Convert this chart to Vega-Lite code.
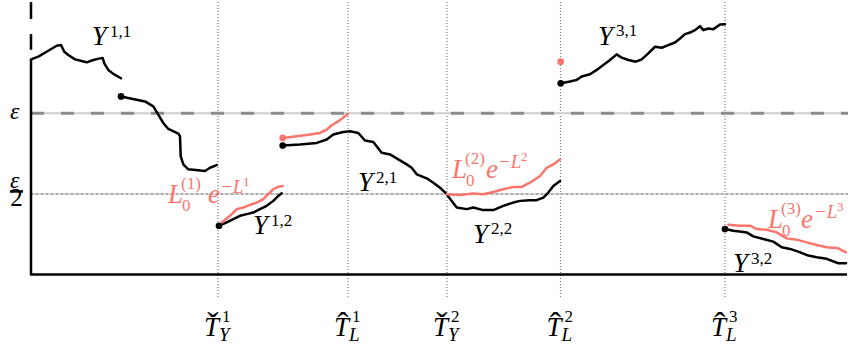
{
  "$schema": "https://vega.github.io/schema/vega-lite/v6.json",
  "width": 863,
  "height": 356,
  "padding": 0,
  "autosize": {"type": "fit", "contains": "padding"},
  "config": {"view": {"stroke": null}},
  "datasets": {
    "ycurves": [
      {"s":"Y11a","x":0,"y":216.3},{"s":"Y11a","x":7.3,"y":219},{"s":"Y11a","x":17.3,"y":225},{"s":"Y11a","x":25.7,"y":230},{"s":"Y11a","x":30,"y":230.7},{"s":"Y11a","x":33.3,"y":224},{"s":"Y11a","x":37.3,"y":220.7},{"s":"Y11a","x":44,"y":216.3},{"s":"Y11a","x":50.7,"y":214.7},{"s":"Y11a","x":55.7,"y":213.3},{"s":"Y11a","x":62.3,"y":215.7},{"s":"Y11a","x":69,"y":217.3},{"s":"Y11a","x":71.7,"y":217.7},{"s":"Y11a","x":73.3,"y":212.3},{"s":"Y11a","x":77.3,"y":205.7},{"s":"Y11a","x":82.3,"y":201.7},{"s":"Y11a","x":90,"y":197.3},
      {"s":"Y11b","x":90,"y":179},{"s":"Y11b","x":100.7,"y":176.7},{"s":"Y11b","x":114,"y":174},{"s":"Y11b","x":122.3,"y":169},{"s":"Y11b","x":127.3,"y":160.7},{"s":"Y11b","x":132.3,"y":152.3},{"s":"Y11b","x":137.3,"y":146.3},{"s":"Y11b","x":147.3,"y":141.7},{"s":"Y11b","x":149,"y":139},{"s":"Y11b","x":149.7,"y":119},{"s":"Y11b","x":152.3,"y":110.7},{"s":"Y11b","x":157.3,"y":105.7},{"s":"Y11b","x":174,"y":104},{"s":"Y11b","x":179,"y":107.3},{"s":"Y11b","x":185.7,"y":110},
      {"s":"Y12","x":188,"y":49},{"s":"Y12","x":195.7,"y":52.3},{"s":"Y12","x":202.3,"y":55.7},{"s":"Y12","x":209,"y":59},{"s":"Y12","x":215.7,"y":60.7},{"s":"Y12","x":222.3,"y":62.3},{"s":"Y12","x":229,"y":65.7},{"s":"Y12","x":235.7,"y":69},{"s":"Y12","x":242.3,"y":74},{"s":"Y12","x":247.3,"y":79},{"s":"Y12","x":250.7,"y":81.7},
      {"s":"Y2","x":251.7,"y":129.7},{"s":"Y2","x":269,"y":130.7},{"s":"Y2","x":285.7,"y":132.3},{"s":"Y2","x":295.7,"y":135.7},{"s":"Y2","x":302.3,"y":140.7},{"s":"Y2","x":312.3,"y":143.3},{"s":"Y2","x":319,"y":144},{"s":"Y2","x":327.3,"y":142.3},{"s":"Y2","x":334,"y":134.7},{"s":"Y2","x":342.3,"y":133.3},{"s":"Y2","x":350.7,"y":122.3},{"s":"Y2","x":359,"y":120.7},{"s":"Y2","x":367.3,"y":115.7},{"s":"Y2","x":375.7,"y":110.7},{"s":"Y2","x":380.7,"y":107.3},{"s":"Y2","x":385.7,"y":100.7},{"s":"Y2","x":395.7,"y":96.7},{"s":"Y2","x":402.3,"y":92.3},{"s":"Y2","x":409,"y":87.3},{"s":"Y2","x":415.7,"y":80.7},{"s":"Y2","x":420.7,"y":74},{"s":"Y2","x":425.7,"y":67.3},{"s":"Y2","x":435.7,"y":65.7},{"s":"Y2","x":442.3,"y":67.3},{"s":"Y2","x":452.3,"y":64.7},{"s":"Y2","x":462.3,"y":64.7},{"s":"Y2","x":472.3,"y":69},{"s":"Y2","x":482.3,"y":72.3},{"s":"Y2","x":489,"y":74},{"s":"Y2","x":499,"y":74.7},{"s":"Y2","x":505.7,"y":74.7},{"s":"Y2","x":512.3,"y":77.3},{"s":"Y2","x":517.3,"y":82.3},{"s":"Y2","x":522.3,"y":89},{"s":"Y2","x":529,"y":94},
      {"s":"Y31","x":529.7,"y":192.3},{"s":"Y31","x":539,"y":194},{"s":"Y31","x":545.7,"y":195.7},{"s":"Y31","x":550.7,"y":199},{"s":"Y31","x":559,"y":201.3},{"s":"Y31","x":565.7,"y":205.7},{"s":"Y31","x":572.3,"y":210.7},{"s":"Y31","x":579,"y":215.7},{"s":"Y31","x":585.7,"y":221.3},{"s":"Y31","x":590.7,"y":218},{"s":"Y31","x":597.3,"y":215.7},{"s":"Y31","x":605,"y":214},{"s":"Y31","x":610.7,"y":216.3},{"s":"Y31","x":617.3,"y":222.3},{"s":"Y31","x":624,"y":229},{"s":"Y31","x":630.7,"y":228},{"s":"Y31","x":637.3,"y":230.7},{"s":"Y31","x":644,"y":233.3},{"s":"Y31","x":649,"y":237.3},{"s":"Y31","x":654,"y":241.7},{"s":"Y31","x":659,"y":243.3},{"s":"Y31","x":664,"y":245.7},{"s":"Y31","x":669,"y":249.7},{"s":"Y31","x":672.3,"y":245.7},{"s":"Y31","x":677.3,"y":247.3},{"s":"Y31","x":682.3,"y":246.7},{"s":"Y31","x":685.7,"y":249},{"s":"Y31","x":689,"y":251.3},{"s":"Y31","x":694,"y":251.7},
      {"s":"Y32","x":694,"y":45.7},{"s":"Y32","x":702.3,"y":44},{"s":"Y32","x":710.7,"y":43},{"s":"Y32","x":715.7,"y":42.3},{"s":"Y32","x":722.3,"y":38.3},{"s":"Y32","x":732.3,"y":35.7},{"s":"Y32","x":742.3,"y":33},{"s":"Y32","x":750.7,"y":27.3},{"s":"Y32","x":759,"y":25.7},{"s":"Y32","x":767.3,"y":23},{"s":"Y32","x":777.3,"y":19},{"s":"Y32","x":785.7,"y":17.3},{"s":"Y32","x":795.7,"y":15.7},{"s":"Y32","x":807.3,"y":11.3},{"s":"Y32","x":815,"y":11.3}
    ],
    "lcurves": [
      {"s":"L1a","x":190.7,"y":52.3},{"s":"L1a","x":199,"y":59},{"s":"L1a","x":205.7,"y":65.7},{"s":"L1a","x":212.3,"y":67.3},{"s":"L1a","x":219,"y":70},{"s":"L1a","x":225.7,"y":72.3},{"s":"L1a","x":232.3,"y":75.7},{"s":"L1a","x":237.3,"y":80.7},{"s":"L1a","x":242.3,"y":85.7},{"s":"L1a","x":247.3,"y":88.3},{"s":"L1a","x":251.7,"y":89},
      {"s":"L1b","x":251.7,"y":137.3},{"s":"L1b","x":265.7,"y":139},{"s":"L1b","x":279,"y":140.7},{"s":"L1b","x":289,"y":142.3},{"s":"L1b","x":295.7,"y":145.7},{"s":"L1b","x":300.7,"y":150},{"s":"L1b","x":307.3,"y":154},{"s":"L1b","x":314,"y":159},{"s":"L1b","x":317,"y":161.5},
      {"s":"L2","x":415.7,"y":80.7},{"s":"L2","x":429,"y":80},{"s":"L2","x":442.3,"y":81.3},{"s":"L2","x":452.3,"y":80.7},{"s":"L2","x":462.3,"y":83},{"s":"L2","x":472.3,"y":85.7},{"s":"L2","x":482.3,"y":88},{"s":"L2","x":490.7,"y":88},{"s":"L2","x":499,"y":92.3},{"s":"L2","x":509,"y":99},{"s":"L2","x":515.7,"y":107.3},{"s":"L2","x":522.3,"y":110.7},{"s":"L2","x":529,"y":115.7},
      {"s":"L3","x":697.3,"y":50},{"s":"L3","x":709,"y":49},{"s":"L3","x":719,"y":49},{"s":"L3","x":725.7,"y":45.7},{"s":"L3","x":735.7,"y":45},{"s":"L3","x":745.7,"y":42.3},{"s":"L3","x":755.7,"y":36.3},{"s":"L3","x":765.7,"y":35},{"s":"L3","x":775.7,"y":32.3},{"s":"L3","x":785.7,"y":29.7},{"s":"L3","x":795.7,"y":27.3},{"s":"L3","x":807.3,"y":26.3},{"s":"L3","x":815,"y":22.3}
    ]
  },
  "encoding": {
    "x": {"field": "x", "type": "quantitative", "scale": {"domain": [-31, 832], "nice": false, "zero": false}, "axis": null},
    "y": {"field": "y", "type": "quantitative", "scale": {"domain": [-82, 274], "nice": false, "zero": false}, "axis": null}
  },
  "layer": [
    {
      "data": {"values": [{"x":187,"y":274,"y2":-24},{"x":317,"y":274,"y2":-24},{"x":416,"y":274,"y2":-24},{"x":529.5,"y":274,"y2":-24},{"x":694,"y":274,"y2":-24}]},
      "mark": {"type": "rule", "color": "#7a7a7a", "strokeWidth": 1.2, "strokeDash": [1, 2]},
      "encoding": {"y2": {"field": "y2"}}
    },
    {
      "data": {"values": [{"x":0,"x2":817,"y":162}]},
      "mark": {"type": "rule", "color": "#cdcdcd", "strokeWidth": 2},
      "encoding": {"x2": {"field": "x2"}}
    },
    {
      "data": {"values": [{"x":0,"x2":817,"y":162}]},
      "mark": {"type": "rule", "color": "#8c8c8c", "strokeWidth": 3, "strokeDash": [13, 17]},
      "encoding": {"x2": {"field": "x2"}}
    },
    {
      "data": {"values": [{"x":0,"x2":817,"y":81}]},
      "mark": {"type": "rule", "color": "#c8c8c8", "strokeWidth": 1.5},
      "encoding": {"x2": {"field": "x2"}}
    },
    {
      "data": {"values": [{"x":0,"x2":817,"y":81}]},
      "mark": {"type": "rule", "color": "#999999", "strokeWidth": 1.5, "strokeDash": [2, 3]},
      "encoding": {"x2": {"field": "x2"}}
    },
    {
      "data": {"values": [{"x":0,"x2":816,"y":0},{"x":-21,"x2":-8,"y":83.5}]},
      "mark": {"type": "rule", "color": "#000000", "strokeWidth": 2.5},
      "encoding": {"x2": {"field": "x2"}}
    },
    {
      "data": {"values": [{"x":0,"y":-1,"y2":216.3}]},
      "mark": {"type": "rule", "color": "#000000", "strokeWidth": 2.5},
      "encoding": {"y2": {"field": "y2"}}
    },
    {
      "data": {"values": [{"x":0,"y":274,"y2":226}]},
      "mark": {"type": "rule", "color": "#000000", "strokeWidth": 2.5, "strokeDash": [17, 15]},
      "encoding": {"y2": {"field": "y2"}}
    },
    {
      "data": {"name": "ycurves"},
      "mark": {"type": "line", "color": "#000000", "strokeWidth": 2.5, "strokeJoin": "round", "strokeCap": "round"},
      "encoding": {"detail": {"field": "s"}}
    },
    {
      "data": {"name": "lcurves"},
      "mark": {"type": "line", "color": "#F8766D", "strokeWidth": 2.5, "strokeJoin": "round", "strokeCap": "round"},
      "encoding": {"detail": {"field": "s"}}
    },
    {
      "data": {"values": [{"g":"L","x":251.7,"y":137.3},{"g":"L","x":529.7,"y":214},{"g":"Y","x":90,"y":179},{"g":"Y","x":188,"y":49},{"g":"Y","x":251.7,"y":129.7},{"g":"Y","x":529.7,"y":192.3},{"g":"Y","x":694,"y":45.7}]},
      "mark": {"type": "circle", "size": 45, "opacity": 1},
      "encoding": {"color": {"field": "g", "type": "nominal", "scale": {"domain": ["Y", "L"], "range": ["#000000", "#F8766D"]}, "legend": null}}
    },
    {
      "data": {"values": [
        {"t":"Y","g":"Y","x":60.7,"y":230.7},{"t":"Y","g":"Y","x":222,"y":41},{"t":"Y","g":"Y","x":327,"y":84},{"t":"Y","g":"Y","x":442,"y":32},{"t":"Y","g":"Y","x":567,"y":231},{"t":"Y","g":"Y","x":702,"y":2},
        {"t":"L","g":"L","x":137,"y":72},{"t":"e","g":"L","x":177,"y":72},
        {"t":"L","g":"L","x":421,"y":97},{"t":"e","g":"L","x":455,"y":97},
        {"t":"L","g":"L","x":737,"y":47},{"t":"e","g":"L","x":770,"y":47},
        {"t":"T","g":"Y","x":173,"y":-62},{"t":"T","g":"Y","x":303,"y":-62},{"t":"T","g":"Y","x":402,"y":-62},{"t":"T","g":"Y","x":515.5,"y":-62},{"t":"T","g":"Y","x":680,"y":-62}
      ]},
      "mark": {"type": "text", "align": "left", "baseline": "alphabetic", "font": "Liberation Serif", "fontStyle": "italic", "fontSize": 27},
      "encoding": {"text": {"field": "t"}, "color": {"field": "g", "type": "nominal", "scale": {"domain": ["Y", "L"], "range": ["#000000", "#F8766D"]}, "legend": null}}
    },
    {
      "data": {"values": [
        {"t":"1,1","g":"Y","x":79,"y":239},{"t":"1,2","g":"Y","x":240,"y":49},{"t":"2,1","g":"Y","x":345,"y":92},{"t":"2,2","g":"Y","x":460,"y":41},{"t":"3,1","g":"Y","x":585,"y":240},{"t":"3,2","g":"Y","x":720,"y":11},
        {"t":"0","g":"L","x":151,"y":64},{"t":"(1)","g":"L","x":150,"y":86},
        {"t":"0","g":"L","x":435,"y":89},{"t":"(2)","g":"L","x":434,"y":111},
        {"t":"0","g":"L","x":751,"y":39},{"t":"(3)","g":"L","x":750,"y":61},
        {"t":"1","g":"Y","x":191,"y":-48},{"t":"1","g":"Y","x":321,"y":-48},{"t":"2","g":"Y","x":420,"y":-48},{"t":"2","g":"Y","x":533.5,"y":-48},{"t":"3","g":"Y","x":698,"y":-48}
      ]},
      "mark": {"type": "text", "align": "left", "baseline": "alphabetic", "font": "Liberation Serif", "fontSize": 17},
      "encoding": {"text": {"field": "t"}, "color": {"field": "g", "type": "nominal", "scale": {"domain": ["Y", "L"], "range": ["#000000", "#F8766D"]}, "legend": null}}
    },
    {
      "data": {"values": [
        {"t":"−L","g":"L","x":189,"y":82},{"t":"−L","g":"L","x":467,"y":107},{"t":"−L","g":"L","x":783,"y":57},
        {"t":"Y","g":"Y","x":188,"y":-67},{"t":"L","g":"Y","x":318,"y":-67},{"t":"Y","g":"Y","x":417,"y":-67},{"t":"L","g":"Y","x":530.5,"y":-67},{"t":"L","g":"Y","x":695,"y":-67}
      ]},
      "mark": {"type": "text", "align": "left", "baseline": "alphabetic", "font": "Liberation Serif", "fontStyle": "italic", "fontSize": 19},
      "encoding": {"text": {"field": "t"}, "color": {"field": "g", "type": "nominal", "scale": {"domain": ["Y", "L"], "range": ["#000000", "#F8766D"]}, "legend": null}}
    },
    {
      "data": {"values": [{"t":"1","g":"L","x":212,"y":89},{"t":"2","g":"L","x":490,"y":114},{"t":"3","g":"L","x":806,"y":64}]},
      "mark": {"type": "text", "align": "left", "baseline": "alphabetic", "font": "Liberation Serif", "fontSize": 13},
      "encoding": {"text": {"field": "t"}, "color": {"field": "g", "type": "nominal", "scale": {"domain": ["Y", "L"], "range": ["#000000", "#F8766D"]}, "legend": null}}
    },
    {
      "data": {"values": [{"t":"ˇ","x":182,"y":-62},{"t":"ˆ","x":312,"y":-62},{"t":"ˇ","x":411,"y":-62},{"t":"ˆ","x":524.5,"y":-62},{"t":"ˆ","x":689,"y":-62}]},
      "mark": {"type": "text", "align": "center", "baseline": "alphabetic", "font": "Liberation Serif", "fontSize": 34, "color": "#000000"},
      "encoding": {"text": {"field": "t"}}
    },
    {
      "data": {"values": [{"t":"ε","x":-21,"y":156},{"t":"ε","x":-21,"y":87}]},
      "mark": {"type": "text", "align": "left", "baseline": "alphabetic", "font": "Liberation Serif", "fontStyle": "italic", "fontSize": 24, "color": "#000000"},
      "encoding": {"text": {"field": "t"}}
    },
    {
      "data": {"values": [{"t":"2","x":-14.5,"y":69}]},
      "mark": {"type": "text", "align": "center", "baseline": "alphabetic", "font": "Liberation Serif", "fontSize": 25, "color": "#000000"},
      "encoding": {"text": {"field": "t"}}
    }
  ]
}
